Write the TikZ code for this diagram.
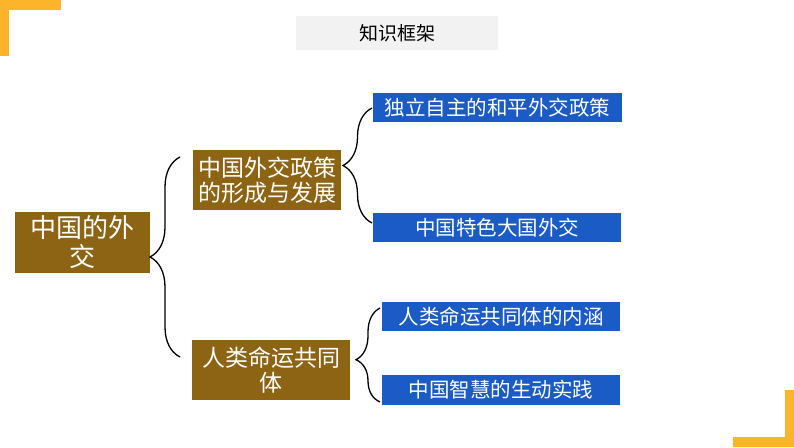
\documentclass[tikz,border=0pt]{standalone}
\usepackage{fontspec}
\setmainfont{Noto Sans CJK SC}
\usepackage{xcolor}
\usetikzlibrary{positioning,decorations.pathreplacing}

\definecolor{cornergold}{HTML}{FCB42A}
\definecolor{titlegray}{HTML}{F2F2F2}
\definecolor{topicbrown}{HTML}{8C6414}
\definecolor{itemblue}{HTML}{1A5BC6}

\begin{document}
\begin{tikzpicture}[x=1pt,y=-1pt,
  topic/.style={fill=topicbrown,text=white,inner sep=0pt,align=center},
  item/.style={fill=itemblue,text=white,inner sep=0pt,minimum height=29pt,
    font=\fontsize{20.5}{22}\selectfont},
  curly/.style={decorate,decoration={brace,amplitude=#1},line width=1.3pt},
  curly/.default=28pt]

\useasboundingbox (0,0) rectangle (794,447);

% corners
\fill[cornergold] (0,0) rectangle (61,10);
\fill[cornergold] (0,0) rectangle (9,56);
\fill[cornergold] (733,437) rectangle (794,447);
\fill[cornergold] (785,390) rectangle (794,447);

% title
\node[fill=titlegray,minimum width=202pt,minimum height=34pt,inner sep=0pt,
  font=\fontsize{19}{21}\selectfont] (title) at (397,33) {知识框架};

% topics
\node[topic,minimum width=135pt,minimum height=61pt,
  font=\fontsize{26}{29}\selectfont] (root) at (82.5,242.5) {中国的外\\交};
\node[topic,minimum width=148pt,minimum height=60pt,
  font=\fontsize{23}{25}\selectfont] (policy) at (267,180) {中国外交政策\\的形成与发展};
\node[topic,minimum width=158pt,minimum height=60pt,
  font=\fontsize{23}{25}\selectfont] (community) at (271,370) {人类命运共同\\体};

% items
\node[item,minimum width=249pt] (indep) at (497.5,107.5) {独立自主的和平外交政策};
\node[item,minimum width=248pt] (major) at (497,227.5) {中国特色大国外交};
\node[item,minimum width=238pt] (meaning) at (501,316.5) {人类命运共同体的内涵};
\node[item,minimum width=238pt,minimum height=30pt] (practice) at (501,390) {中国智慧的生动实践};

% braces
\coordinate (rootlo) at (180,357);
\coordinate (roothi) at (180,157);
\coordinate (policylo) at (372,223);
\coordinate (policyhi) at (372,108);
\coordinate (commlo) at (380,402);
\coordinate (commhi) at (380,308);

\draw[curly=30pt] (rootlo) -- (roothi);
\draw[curly=29pt] (policylo) -- (policyhi);
\draw[curly=24pt,decoration={aspect=0.45}] (commlo) -- (commhi);
\end{tikzpicture}
\end{document}
